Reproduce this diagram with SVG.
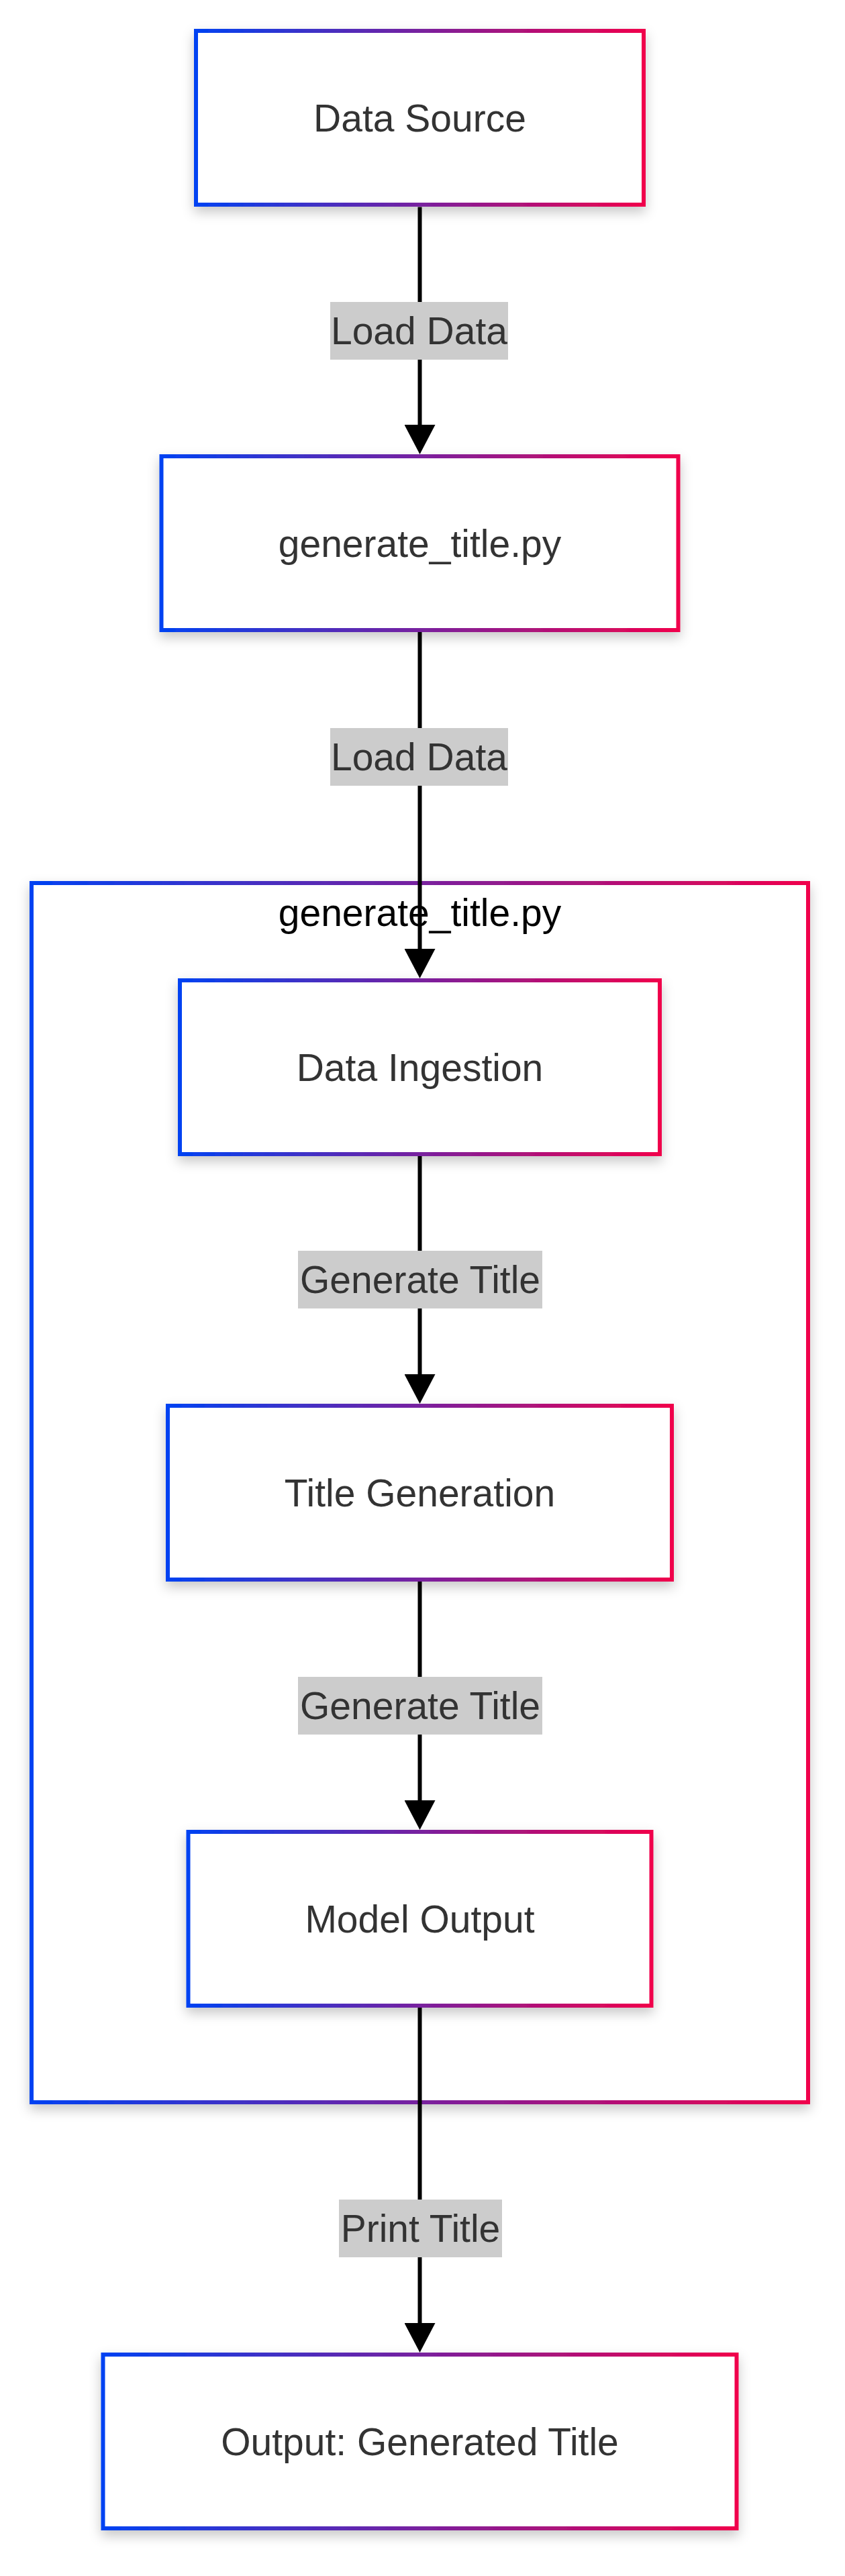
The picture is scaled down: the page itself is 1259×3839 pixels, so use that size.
<svg xmlns="http://www.w3.org/2000/svg" width="1259" height="3839" viewBox="0 0 1259 3839">
  <defs>
    <linearGradient id="grad" x1="0" y1="0" x2="1" y2="0">
      <stop offset="0" stop-color="#0042f2"/>
      <stop offset="1" stop-color="#f0004c"/>
    </linearGradient>
    <filter id="shadow" x="-10%" y="-10%" width="120%" height="130%">
      <feDropShadow dx="0" dy="8" stdDeviation="9" flood-color="#000" flood-opacity="0.22"/>
    </filter>
    <marker id="arrow" markerUnits="userSpaceOnUse" markerWidth="44" markerHeight="46" refX="0" refY="23" orient="auto" viewBox="0 0 44 46">
      <path d="M0,0 L44,23 L0,46 z" fill="#000"/>
    </marker>
    <style>
      .node rect { fill: #ffffff; stroke: url(#grad); stroke-width: 6; filter: url(#shadow); }
      .cluster rect { fill: #ffffff; stroke: url(#grad); stroke-width: 6; filter: url(#shadow); }
      .ntext { font-family: "Liberation Sans", Arial, sans-serif; font-size: 57px; fill: #333333; text-anchor: middle; }
      .ctext { font-family: "Liberation Sans", Arial, sans-serif; font-size: 57px; fill: #000000; text-anchor: middle; }
      .edge { stroke: #000; stroke-width: 6; fill: none; marker-end: url(#arrow); }
      .elabel rect { fill: #cccccc; }
      .elabel text { font-family: "Liberation Sans", Arial, sans-serif; font-size: 57px; fill: #333333; text-anchor: middle; }
    </style>
  </defs>
  <rect width="1259" height="3839" fill="#ffffff"/>

  <g id="cluster_generate_title" class="cluster">
    <rect x="47" y="1316" width="1157" height="1817"/>
    <text class="ctext" x="625.5" y="1380">generate_title.py</text>
  </g>

  <g id="connectors">
    <path class="edge" d="M625.5,308.5 V633"/>
    <path class="edge" d="M625.5,942 V1414"/>
    <path class="edge" d="M625.5,1723 V2048"/>
    <path class="edge" d="M625.5,2357 V2683"/>
    <path class="edge" d="M625.5,2992 V3462"/>
    <g class="elabel">
      <rect x="492" y="450" width="265" height="86"/>
      <text x="624.5" y="513">Load Data</text>
    </g>
    <g class="elabel">
      <rect x="492" y="1085" width="265" height="86"/>
      <text x="624.5" y="1148">Load Data</text>
    </g>
    <g class="elabel">
      <rect x="444" y="1864" width="364" height="86"/>
      <text x="626" y="1927">Generate Title</text>
    </g>
    <g class="elabel">
      <rect x="444" y="2499" width="364" height="86"/>
      <text x="626" y="2562">Generate Title</text>
    </g>
    <g class="elabel">
      <rect x="505" y="3278" width="243" height="86"/>
      <text x="626.5" y="3341">Print Title</text>
    </g>
  </g>

  <g id="node_data_source" class="node">
    <rect x="292" y="46" width="667" height="259"/>
    <text class="ntext" x="625.5" y="196">Data Source</text>
  </g>
  <g id="node_generate_title_py" class="node">
    <rect x="240.5" y="680" width="770" height="259"/>
    <text class="ntext" x="625.5" y="830">generate_title.py</text>
  </g>
  <g id="node_data_ingestion" class="node">
    <rect x="268" y="1461" width="715" height="259"/>
    <text class="ntext" x="625.5" y="1611">Data Ingestion</text>
  </g>
  <g id="node_title_generation" class="node">
    <rect x="250" y="2095" width="751" height="259"/>
    <text class="ntext" x="625.5" y="2245">Title Generation</text>
  </g>
  <g id="node_model_output" class="node">
    <rect x="280.5" y="2730" width="690" height="259"/>
    <text class="ntext" x="625.5" y="2880">Model Output</text>
  </g>
  <g id="node_output" class="node">
    <rect x="153.5" y="3509" width="944" height="259"/>
    <text class="ntext" x="625.5" y="3659">Output: Generated Title</text>
  </g>
</svg>
